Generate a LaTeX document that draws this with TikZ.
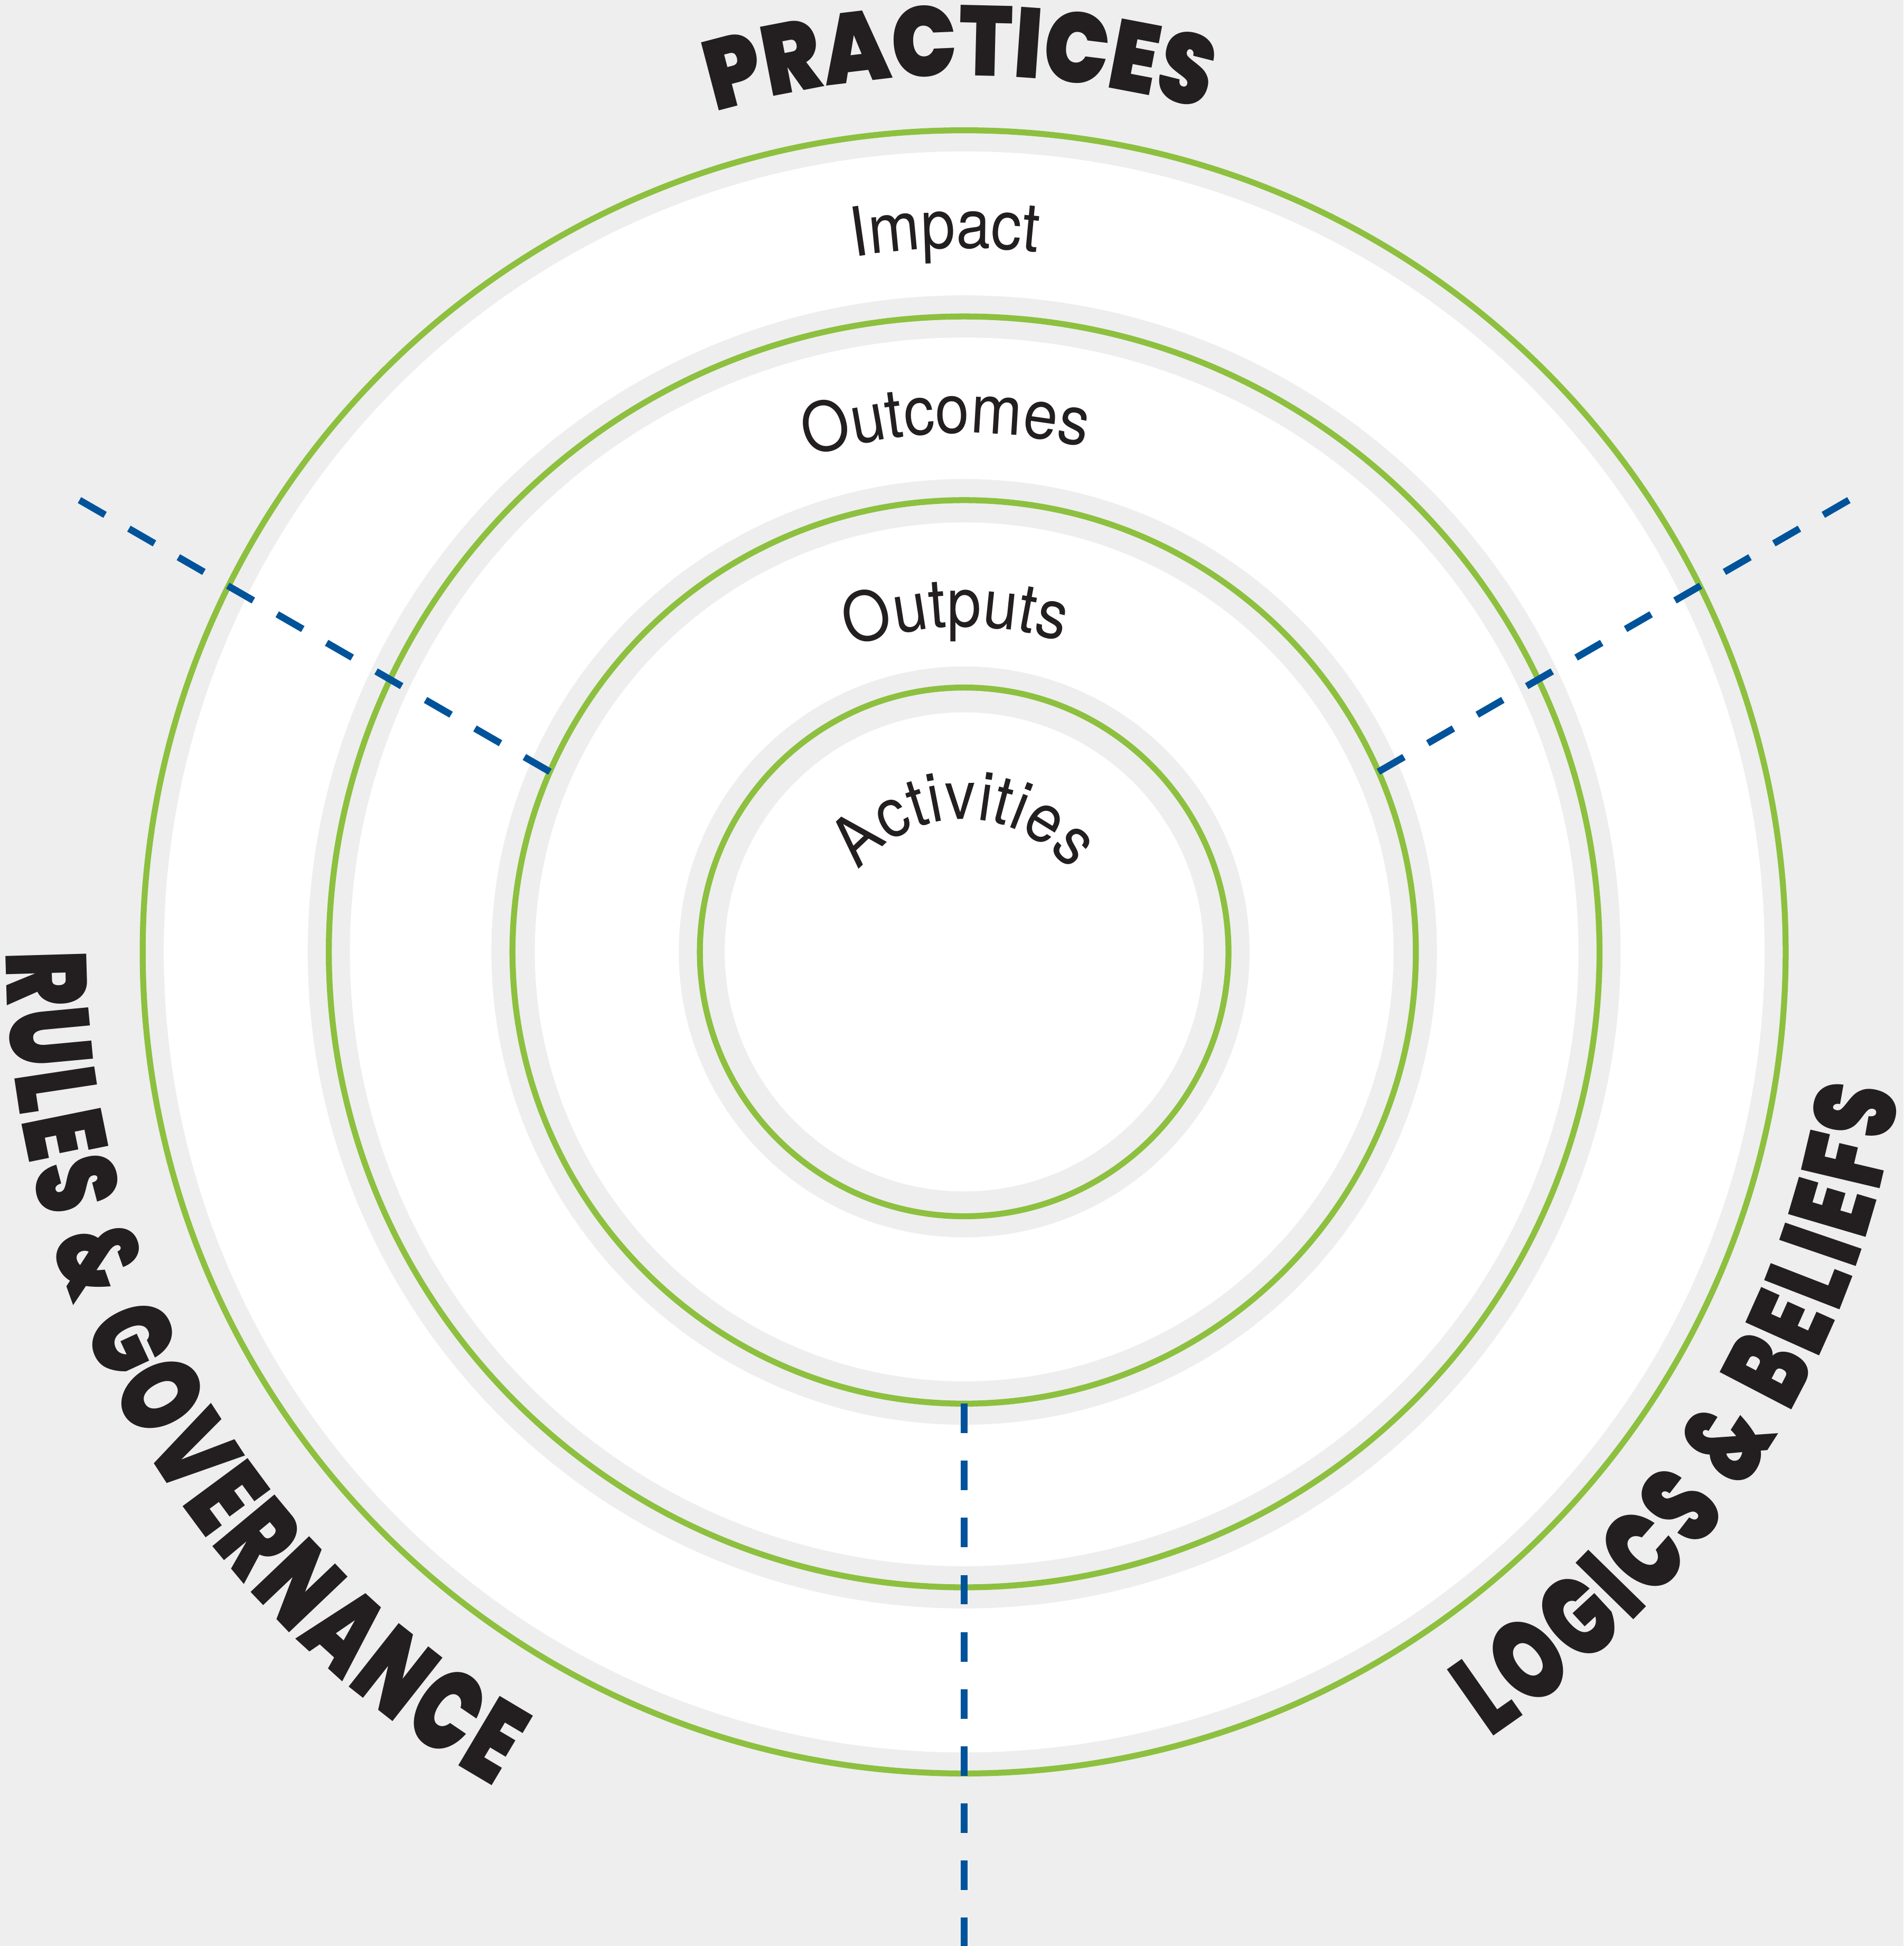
\documentclass[tikz,border=0pt]{standalone}
\usepackage{fontspec}
\usetikzlibrary{decorations.text,calc}
\newfontfamily\heavyA{Poppins Black}[FakeStretch=0.875]
\newfontfamily\heavyB{Poppins Black}[FakeStretch=0.72]
\newfontfamily\ringfont{TeX Gyre Heros}[FakeStretch=0.9]
\definecolor{bg}{HTML}{EEEEEE}
\definecolor{ringgreen}{HTML}{8DC03F}
\definecolor{divblue}{HTML}{00539B}
\definecolor{ink}{HTML}{231F20}
\tikzset{
  ring/.style={draw=ringgreen,line width=4.8pt},
  divider/.style={draw=divblue,line width=5.5pt,dash pattern=on 23.8pt off 22.2pt},
  ringlabel/.style={decorate,decoration={text along path,text align=center,text color=ink,text={|\ringfont\fontsize{55}{55}\selectfont|#1}}},
  biglabelA/.style={decorate,decoration={text along path,text align=center,text color=ink,text={|\heavyA\fontsize{80}{80}\selectfont|#1}}},
  biglabelB/.style={decorate,decoration={text along path,text align=fit to path,text color=ink,text={|\heavyB\fontsize{92}{92}\selectfont|#1}}}
}
\begin{document}
\begin{tikzpicture}[x=1pt,y=1pt]
\useasboundingbox (-777,-801) rectangle (757,767);
\fill[bg] (-777,-801) rectangle (757,767);
% bands
\fill[white] (0,0) circle[radius=645];
\fill[bg] (0,0) circle[radius=529];
\fill[white] (0,0) circle[radius=495];
\fill[bg] (0,0) circle[radius=381];
\fill[white] (0,0) circle[radius=346];
\fill[bg] (0,0) circle[radius=230];
\fill[white] (0,0) circle[radius=193];
% rings
\coordinate (O) at (0,0);
\draw[ring] (O) circle[radius=662];
\draw[ring] (O) circle[radius=512];
\draw[ring] (O) circle[radius=364];
\draw[ring] (O) circle[radius=213];
% dividers
\coordinate (L0) at (156.5:364);
\coordinate (L1) at ($(L0)+(150:438)$);
\coordinate (R0) at (23.5:364);
\coordinate (R1) at ($(R0)+(30:438)$);
\coordinate (B0) at (270:364);
\coordinate (B1) at (0,-801);
\draw[divider] (L0) -- (L1);
\draw[divider] (R0) -- (R1);
\draw[divider] (B0) -- (B1);
% ring labels
\path[ringlabel={Impact}] (181.5:567) arc[start angle=181.5,end angle=1.5,radius=567];
\path[ringlabel={Outcomes}] (182:418) arc[start angle=182,end angle=2,radius=418];
\path[ringlabel={Outputs}] (181.5:262) arc[start angle=181.5,end angle=1.5,radius=262];
\path[ringlabel={Activities}] (180:107) arc[start angle=180,end angle=0,radius=107];
% big labels
\path[biglabelA={PRACTICES}] (130.3:706) arc[start angle=130.3,end angle=50.3,radius=706];
\path[biglabelB={RULES {\&} GOVERNANCE}] (180:772) arc[start angle=180,end angle=240.6,radius=772];
\path[biglabelB={LOGICS {\&} BELIEFS}] (-56.2:762) arc[start angle=-56.2,end angle=-8.5,radius=762];
\end{tikzpicture}
\end{document}
